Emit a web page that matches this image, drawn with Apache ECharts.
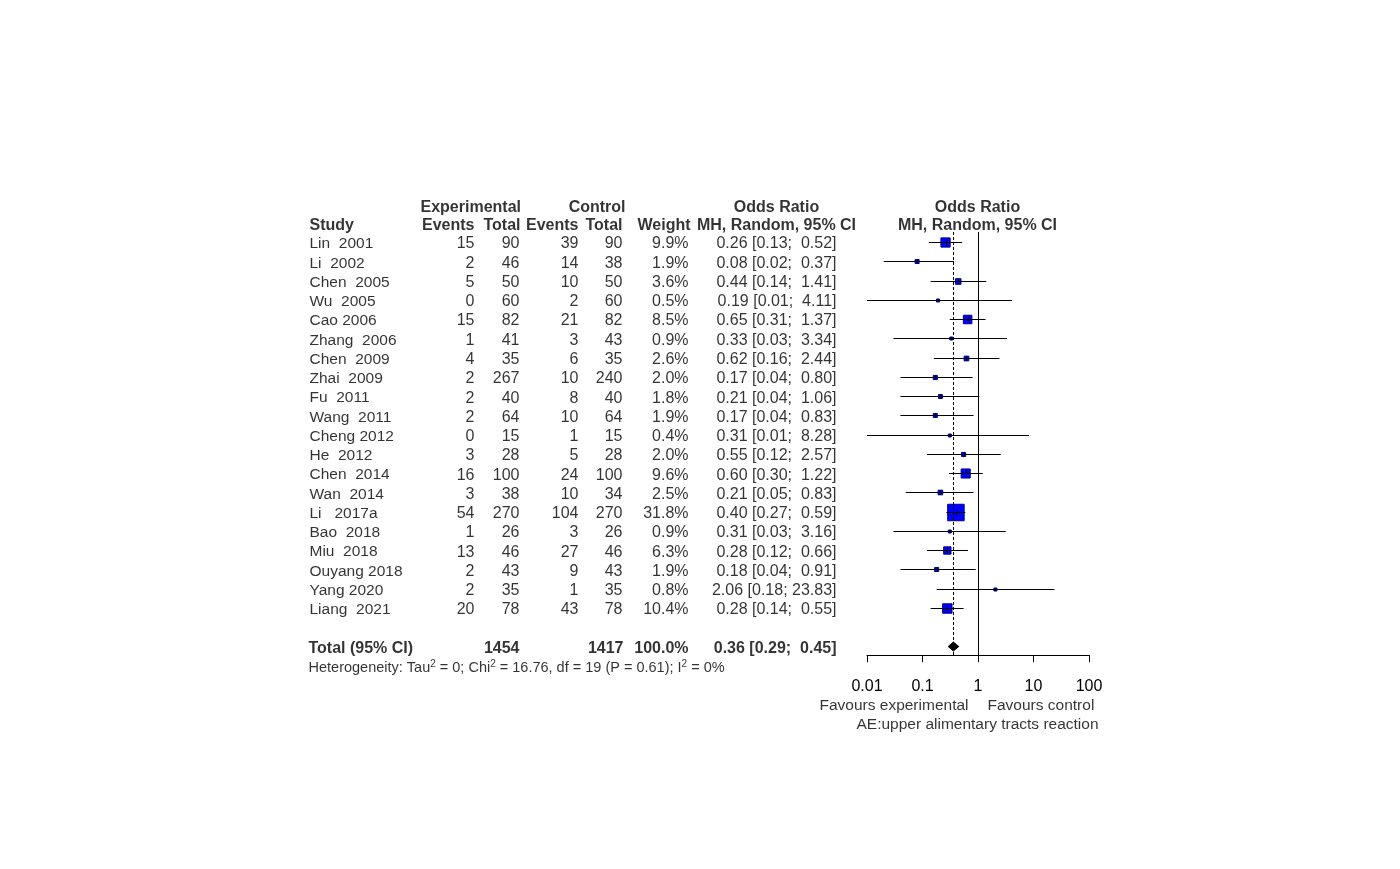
<!DOCTYPE html>
<html>
<head>
<meta charset="utf-8">
<script src="https://cdn.jsdelivr.net/npm/echarts@6/dist/echarts.min.js"></script>
<style>
html,body{margin:0;padding:0;background:#fff;}
#chart{width:1400px;height:869px;}
</style>
</head>
<body>
<div id="chart"></div>
<script>
// ---------------- data ----------------
const studies = ["Lin  2001","Li  2002","Chen  2005","Wu  2005","Cao 2006","Zhang  2006","Chen  2009","Zhai  2009","Fu  2011","Wang  2011","Cheng 2012","He  2012","Chen  2014","Wan  2014","Li   2017a","Bao  2018","Miu  2018","Ouyang 2018","Yang 2020","Liang  2021"];
const expEvents  = [15,2,5,0,15,1,4,2,2,2,0,3,16,3,54,1,13,2,2,20];
const expTotal   = [90,46,50,60,82,41,35,267,40,64,15,28,100,38,270,26,46,43,35,78];
const ctrlEvents = [39,14,10,2,21,3,6,10,8,10,1,5,24,10,104,3,27,9,1,43];
const ctrlTotal  = [90,38,50,60,82,43,35,240,40,64,15,28,100,34,270,26,46,43,35,78];
const weights    = [9.9,1.9,3.6,0.5,8.5,0.9,2.6,2.0,1.8,1.9,0.4,2.0,9.6,2.5,31.8,0.9,6.3,1.9,0.8,10.4];
const oddsRatio  = [0.26,0.08,0.44,0.19,0.65,0.33,0.62,0.17,0.21,0.17,0.31,0.55,0.60,0.21,0.40,0.31,0.28,0.18,2.06,0.28];
const ciLower    = [0.13,0.02,0.14,0.01,0.31,0.03,0.16,0.04,0.04,0.04,0.01,0.12,0.30,0.05,0.27,0.03,0.12,0.04,0.18,0.14];
const ciUpper    = [0.52,0.37,1.41,4.11,1.37,3.34,2.44,0.80,1.06,0.83,8.28,2.57,1.22,0.83,0.59,3.16,0.66,0.91,23.83,0.55];
const totalExp = 1454, totalCtrl = 1417, totalWeight = 100.0;
const pooled = [0.36, 0.29, 0.45]; // OR, lower, upper
const tickLabels = ["0.01","0.1","1","10","100"];
const heterogeneity = {tau2: "0", chi2: "16.76", df: "19", p: "0.61", i2: "0%"};

// ---------------- layout constants ----------------
const FONT = "'Liberation Sans', Arial, Helvetica, sans-serif";
const FS = 16, FS_TXT = 15.5;
const ROW_PX = 19.263;           // pixels per row
const ROW0_Y = 242;              // pixel y of first study row
const TEXT_DY = 2;               // baseline nudge for table text
const TOTAL_ROW = 21, HET_ROW = 22.0, FAV_ROW = 23.98, AE_ROW = 24.97;
const H1_ROW = -1.9, H2_ROW = -0.93;
const COL = {study:309, expEv:475, expTot:520, ctlEv:579, ctlTot:623, weight:689, ci:837};
const OR_CENTER = 776.5, PLOT_CENTER = 977.5;
const T_MIN = -3, T_MAX = 26;
const F_MIN = -0.52, F_MAX = 21.45;
const PLOT_LEFT = 867, PLOT_RIGHT = 1089;

function fmtCI(o, l, u) {
  const up = u.toFixed(2);
  const pad = up.length < 5 ? " " + up : up;
  return o.toFixed(2) + " [" + l.toFixed(2) + "; " + pad + "]";
}

// text items: [x, row, text]
const leftItems = [], rightItems = [], centerItems = [], nameItems = [];
const leftBold = [], rightBold = [], centerBold = [];

// headers
leftBold.push([420, H1_ROW, "Experimental"]);
rightBold.push([626, H1_ROW, "Control"]);
centerBold.push([OR_CENTER, H1_ROW, "Odds Ratio"]);
centerBold.push([PLOT_CENTER, H1_ROW, "Odds Ratio"]);
leftBold.push([COL.study, H2_ROW, "Study"]);
rightBold.push([COL.expEv, H2_ROW, "Events"]);
rightBold.push([COL.expTot + 1, H2_ROW, "Total"]);
rightBold.push([COL.ctlEv, H2_ROW, "Events"]);
rightBold.push([COL.ctlTot, H2_ROW, "Total"]);
rightBold.push([COL.weight + 2, H2_ROW, "Weight"]);
centerBold.push([OR_CENTER, H2_ROW, "MH, Random, 95% CI"]);
centerBold.push([PLOT_CENTER, H2_ROW, "MH, Random, 95% CI"]);

studies.forEach((s, i) => {
  nameItems.push([COL.study, i, s]);
  rightItems.push([COL.expEv, i, String(expEvents[i])]);
  rightItems.push([COL.expTot, i, String(expTotal[i])]);
  rightItems.push([COL.ctlEv, i, String(ctrlEvents[i])]);
  rightItems.push([COL.ctlTot, i, String(ctrlTotal[i])]);
  rightItems.push([COL.weight, i, weights[i].toFixed(1) + "%"]);
  rightItems.push([COL.ci, i, fmtCI(oddsRatio[i], ciLower[i], ciUpper[i])]);
});

leftBold.push([COL.study - 1, TOTAL_ROW, "Total (95% CI)"]);
rightBold.push([COL.expTot, TOTAL_ROW, String(totalExp)]);
rightBold.push([COL.ctlTot + 1, TOTAL_ROW, String(totalCtrl)]);
rightBold.push([COL.weight, TOTAL_ROW, totalWeight.toFixed(1) + "%"]);
rightBold.push([COL.ci, TOTAL_ROW, fmtCI(pooled[0], pooled[1], pooled[2])]);

const favLeft = [[969, FAV_ROW, "Favours experimental"]];
const favRight = [[987, FAV_ROW, "Favours control"]];
centerItems.push([PLOT_CENTER, AE_ROW, "AE:upper alimentary tracts reaction"]);

function textSeries(items, align, bold, size) {
  return {
    type: 'scatter', xAxisIndex: 0, yAxisIndex: 0, silent: true, clip: false,
    symbol: 'circle', symbolSize: 1, itemStyle: {color: 'transparent'},
    data: items,
    label: {
      show: true,
      position: align === 'right' ? 'left' : (align === 'left' ? 'right' : 'inside'),
      distance: 0,
      formatter: p => p.data[2],
      color: '#000', fontFamily: FONT, fontSize: size || FS,
      fontWeight: bold ? 'bold' : 'normal'
    }
  };
}

const hetText = '{a|Heterogeneity: Tau}{s|2}{a| = ' + heterogeneity.tau2 + '; Chi}{s|2}{a| = ' +
  heterogeneity.chi2 + ', df = ' + heterogeneity.df + ' (P = ' + heterogeneity.p + '); I}{s|2}{a| = ' + heterogeneity.i2 + '}';

const forestData = studies.map((s, i) => [oddsRatio[i], i, ciLower[i], ciUpper[i], weights[i]]);
const maxW = Math.max.apply(null, weights);

const chart = echarts.init(document.getElementById('chart'), null, {renderer: 'canvas'});
const option = {
  backgroundColor: '#fff',
  animation: false,
  grid: [
    {left: 0, width: 1400, top: ROW0_Y + TEXT_DY + T_MIN * ROW_PX, height: (T_MAX - T_MIN) * ROW_PX, containLabel: false},
    {left: PLOT_LEFT, width: PLOT_RIGHT - PLOT_LEFT, top: ROW0_Y + F_MIN * ROW_PX, height: (F_MAX - F_MIN) * ROW_PX, containLabel: false}
  ],
  xAxis: [
    {type: 'value', gridIndex: 0, min: 0, max: 1400, show: false},
    {type: 'log', gridIndex: 1, logBase: 10, min: 0.01, max: 100,
     axisLine: {show: true, onZero: false, lineStyle: {color: '#000', width: 1}},
     axisTick: {show: true, length: 7, lineStyle: {color: '#000', width: 1}},
     minorTick: {show: false}, splitLine: {show: false},
     axisLabel: {color: '#000', fontFamily: FONT, fontSize: FS, margin: 23,
       formatter: v => tickLabels[Math.round(Math.log10(v)) + 2]}}
  ],
  yAxis: [
    {type: 'value', gridIndex: 0, min: T_MIN, max: T_MAX, inverse: true, show: false},
    {type: 'value', gridIndex: 1, min: F_MIN, max: F_MAX, inverse: true, show: false}
  ],
  series: [
    textSeries(nameItems, 'left', false, FS_TXT),
    textSeries(leftItems, 'left', false),
    textSeries(rightItems, 'right', false),
    textSeries(favLeft, 'right', false, FS_TXT),
    textSeries(favRight, 'left', false, FS_TXT),
    textSeries(centerItems, 'center', false, FS_TXT),
    textSeries(leftBold, 'left', true),
    textSeries(rightBold, 'right', true),
    textSeries(centerBold, 'center', true),
    {
      type: 'scatter', xAxisIndex: 0, yAxisIndex: 0, silent: true, clip: false,
      symbolSize: 1, itemStyle: {color: 'transparent'},
      data: [[COL.study - 1, HET_ROW]],
      label: {show: true, position: 'right', distance: 0, formatter: hetText,
        rich: {
          a: {fontFamily: FONT, fontSize: 14.5, color: '#000', lineHeight: 18, verticalAlign: 'middle'},
          s: {fontFamily: FONT, fontSize: 10, color: '#000', lineHeight: 8, verticalAlign: 'top'}
        }}
    },
    {
      type: 'custom', xAxisIndex: 1, yAxisIndex: 1, silent: true, clip: false,
      data: forestData,
      encode: {x: 0, y: 1},
      renderItem: function (params, api) {
        const c = api.coord([api.value(0), api.value(1)]);
        const l = api.coord([api.value(2), api.value(1)]);
        const h = api.coord([api.value(3), api.value(1)]);
        const s = Math.max(3, 16.5 * Math.sqrt(api.value(4) / maxW));
        const y = Math.round(c[1]) + 0.5;
        const half = Math.min(3, s / 2);
        return {
          type: 'group',
          children: [
            {type: 'rect', shape: {x: c[0] - s / 2, y: y - s / 2, width: s, height: s},
             style: {fill: '#0000FF', stroke: '#00008B', lineWidth: 1}},
            {type: 'line', shape: {x1: l[0], y1: y, x2: h[0], y2: y},
             style: {stroke: '#000', lineWidth: 1}},
            {type: 'line', shape: {x1: Math.round(c[0]) + 0.5, y1: y - half, x2: Math.round(c[0]) + 0.5, y2: y + half},
             style: {stroke: '#000', lineWidth: 1}}
          ]
        };
      },
      markLine: {
        silent: true, symbol: ['none', 'none'], label: {show: false},
        data: [
          {xAxis: 1, lineStyle: {color: '#000', width: 1, type: 'solid'}},
          {xAxis: pooled[0], lineStyle: {color: '#000', width: 1, type: [3, 2]}}
        ]
      }
    },
    {
      type: 'custom', xAxisIndex: 1, yAxisIndex: 1, silent: true, clip: false,
      data: [[pooled[0], TOTAL_ROW, pooled[1], pooled[2]]],
      encode: {x: 0, y: 1},
      renderItem: function (params, api) {
        const c = api.coord([api.value(0), api.value(1)]);
        const l = api.coord([api.value(2), api.value(1)]);
        const h = api.coord([api.value(3), api.value(1)]);
        const hh = 4.5;
        return {
          type: 'polygon',
          shape: {points: [[l[0], c[1]], [c[0], c[1] - hh], [h[0], c[1]], [c[0], c[1] + hh]]},
          style: {fill: '#000', stroke: '#000', lineWidth: 1}
        };
      }
    }
  ]
};
chart.setOption(option);
</script>
</body>
</html>
